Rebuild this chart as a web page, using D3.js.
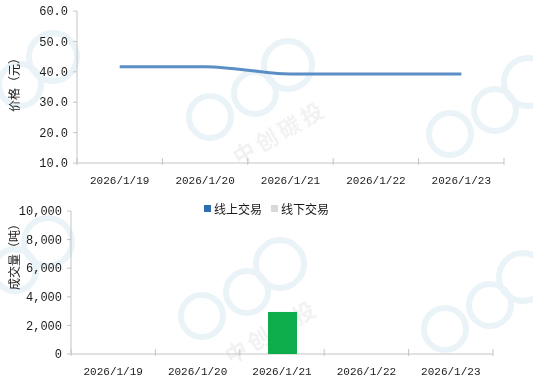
<!DOCTYPE html>
<html>
<head>
<meta charset="utf-8">
<script src="https://cdn.jsdelivr.net/npm/d3@7"></script>
<style>
  body { margin: 0; background: #fff; }
  svg { display: block; }
  .tick-label { font-family: "Liberation Mono", "DejaVu Sans Mono", monospace; font-size: 11px; fill: #1a1a1a; }
  .y-label { font-size: 12px; }
  .title { font-family: "Noto Sans CJK SC", sans-serif; font-size: 12px; fill: #1a1a1a; }
</style>
</head>
<body>
<div id="chart"></div>
<script>
const dates = ["2026/1/19", "2026/1/20", "2026/1/21", "2026/1/22", "2026/1/23"];
const priceTicks = [10, 20, 30, 40, 50, 60];
const prices = [41.7, 41.7, 39.3, 39.3, 39.3];
const volumeTicks = [0, 2000, 4000, 6000, 8000, 10000];
const onlineVolume = [0, 0, 0, 0, 0];
const offlineVolume = [0, 0, 2940, 0, 0];
const legendItems = ["线上交易", "线下交易"];
const colors = { line: "#5b8ec4", online: "#2e6db0", offline: "#d9d9d9", bar: "#0ead4b", axis: "#c4c4c4" };

const width = 533, height = 387;
const svg = d3.select("#chart").append("svg").attr("width", width).attr("height", height);

// faint watermark (rings + company name); edge copies show only their rings
const marks = [[45, 125, false], [280, 133, true], [520, 150, false], [40, 310, false], [272, 332, true], [515, 345, false]];
const wm = svg.append("g").attr("opacity", 0.45);
marks.forEach(([cx, cy, withName]) => {
  const g = wm.append("g").attr("transform", `translate(${cx},${cy})`);
  [[-70, -16, 21], [-25, -40, 21], [8, -68, 24]].forEach(([x, y, r]) =>
    g.append("circle").attr("cx", x).attr("cy", y).attr("r", r)
      .attr("fill", "none").attr("stroke", "#d0e5f0").attr("stroke-width", 6));
  if (withName) {
    g.append("text").attr("transform", "rotate(-30)").attr("text-anchor", "middle")
      .attr("dy", "0.35em").attr("font-family", "Noto Sans CJK SC").attr("font-weight", "bold")
      .attr("font-size", 22).attr("letter-spacing", 4).attr("fill", "#e2e2e2").text("中创碳投");
  }
});

function drawPanel({ left, right, top, bottom, domain, ticks, format, title, titleY }) {
  const x = d3.scaleBand().domain(dates).range([left, right]);
  const y = d3.scaleLinear().domain(domain).range([bottom, top]);
  const g = svg.append("g");

  g.append("line").attr("x1", left).attr("x2", left).attr("y1", top).attr("y2", bottom)
    .attr("stroke", colors.axis);
  g.append("line").attr("x1", left).attr("x2", right).attr("y1", bottom).attr("y2", bottom)
    .attr("stroke", colors.axis);

  ticks.forEach((t) => {
    g.append("line").attr("x1", left - 4).attr("x2", left).attr("y1", y(t)).attr("y2", y(t))
      .attr("stroke", colors.axis);
    g.append("text").attr("class", "tick-label y-label").attr("x", left - 9).attr("y", y(t))
      .attr("dy", "0.35em").attr("text-anchor", "end").text(format(t));
  });

  const edges = dates.map((d) => x(d)).concat([right]);
  edges.forEach((e) =>
    g.append("line").attr("x1", e).attr("x2", e).attr("y1", bottom - 5).attr("y2", bottom + 2)
      .attr("stroke", colors.axis));

  g.selectAll(".xl").data(dates).join("text").attr("class", "tick-label")
    .attr("x", (d) => x(d) + x.bandwidth() / 2).attr("y", bottom + 21)
    .attr("text-anchor", "middle").text((d) => d);

  g.append("text").attr("class", "title").attr("transform", `translate(19,${titleY}) rotate(-90)`)
    .attr("text-anchor", "middle").text(title);

  return { x, y, g };
}

// price panel
const pricePanel = drawPanel({
  left: 77, right: 504, top: 11, bottom: 163, domain: [10, 60], ticks: priceTicks,
  format: d3.format(".1f"), title: "价格（元）", titleY: 82,
});
pricePanel.g.append("path")
  .datum(prices)
  .attr("fill", "none").attr("stroke", colors.line).attr("stroke-width", 3)
  .attr("d", d3.line()
    .x((d, i) => pricePanel.x(dates[i]) + pricePanel.x.bandwidth() / 2)
    .y((d) => pricePanel.y(d))
    .curve(d3.curveMonotoneX));

// volume panel
const volumePanel = drawPanel({
  left: 71, right: 493, top: 211, bottom: 354, domain: [0, 10000], ticks: volumeTicks,
  format: d3.format(","), title: "成交量（吨）", titleY: 254,
});
const barW = 29;
volumePanel.g.selectAll(".bar").data(offlineVolume).join("rect")
  .attr("x", (d, i) => volumePanel.x(dates[i]) + volumePanel.x.bandwidth() / 2 - barW / 2 + 0.5)
  .attr("y", (d) => volumePanel.y(d))
  .attr("width", barW)
  .attr("height", (d) => volumePanel.y(0) - volumePanel.y(d))
  .attr("fill", colors.bar);

// legend
const legend = svg.append("g").attr("transform", "translate(204,209)");
[colors.online, colors.offline].forEach((c, i) => {
  const item = legend.append("g").attr("transform", `translate(${i * 67},0)`);
  item.append("rect").attr("x", 0).attr("y", -4).attr("width", 7).attr("height", 7).attr("fill", c);
  item.append("text").attr("class", "title").attr("x", 10).attr("dy", "0.38em").text(legendItems[i]);
});
</script>
</body>
</html>
